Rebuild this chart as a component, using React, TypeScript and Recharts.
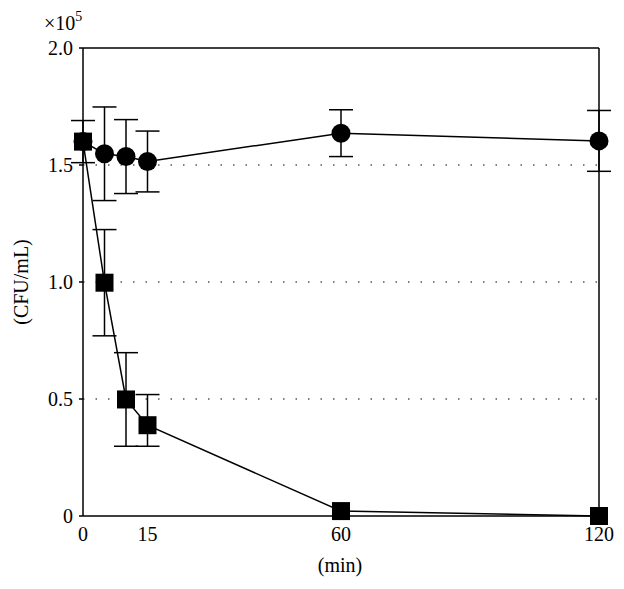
import { LineChart, Line, XAxis, YAxis, CartesianGrid, ErrorBar, ReferenceLine } from 'recharts'

const minutes = [0, 5, 10, 15, 60, 120]
const circleValues = [1.6, 1.548, 1.536, 1.515, 1.636, 1.603]
const circleErrors = [0.09, 0.2, 0.158, 0.13, 0.1, 0.13]
const squareValues = [1.6, 0.997, 0.498, 0.388, 0.021, 0]
const squareErrors: (number | [number, number])[] = [0, 0.227, 0.2, [0.09, 0.131], 0, 0]
const xTicks = [0, 15, 60, 120]
const yTicks = [0, 0.5, 1.0, 1.5, 2.0]

const data = minutes.map((m, i) => ({
  min: m,
  circle: circleValues[i],
  circleErr: circleErrors[i],
  square: squareValues[i],
  squareErr: squareErrors[i],
}))

const font = '"Liberation Serif", "DejaVu Serif", serif'

const CircleDot = (props: any) => {
  const { cx, cy, index } = props
  if (cx == null || cy == null) return null
  return <circle key={'c' + index} cx={cx} cy={cy} r={9.5} fill="#000" />
}

const SquareDot = (props: any) => {
  const { cx, cy, index } = props
  if (cx == null || cy == null) return null
  return <rect key={'s' + index} x={cx - 9} y={cy - 9} width={18} height={18} fill="#000" />
}

export default function App() {
  return (
    <div style={{ position: 'relative', width: 616, height: 573, fontFamily: font }}>
      <LineChart width={616} height={573} data={data} margin={{ top: 40, right: 25, left: 35, bottom: 35 }}>
        <CartesianGrid horizontal vertical={false} stroke="#000" strokeDasharray="1.5 11" horizontalValues={[0.5, 1.0, 1.5]} />
        <XAxis
          dataKey="min"
          type="number"
          domain={[0, 120]}
          ticks={xTicks}
          tickSize={0}
          tickMargin={11}
          height={30}
          stroke="#000"
          strokeWidth={1.5}
          tick={{ fill: '#000', fontSize: 20, fontFamily: font }}
        />
        <YAxis
          type="number"
          domain={[0, 2]}
          ticks={yTicks}
          tickSize={4}
          tickMargin={6}
          width={40}
          stroke="#000"
          strokeWidth={1.5}
          tickFormatter={(v: number) => (v === 0 ? '0' : v.toFixed(1))}
          tick={{ fill: '#000', fontSize: 20, fontFamily: font }}
        />
        <ReferenceLine y={2} stroke="#000" strokeWidth={1.5} />
        <ReferenceLine x={120} stroke="#000" strokeWidth={1.5} />
        <Line
          dataKey="circle"
          stroke="#000"
          strokeWidth={1.5}
          dot={CircleDot}
          activeDot={false}
          isAnimationActive={false}
        >
          <ErrorBar dataKey="circleErr" width={12} stroke="#000" strokeWidth={1.5} />
        </Line>
        <Line
          dataKey="square"
          stroke="#000"
          strokeWidth={1.5}
          dot={SquareDot}
          activeDot={false}
          isAnimationActive={false}
        >
          <ErrorBar dataKey="squareErr" width={12} stroke="#000" strokeWidth={1.5} />
        </Line>
      </LineChart>
      <div style={{ position: 'absolute', left: 36, top: 2, fontSize: 20, color: '#000' }}>
        ×10<sup style={{ fontSize: 14, position: 'relative', top: -1 }}>5</sup>
      </div>
      <div
        style={{
          position: 'absolute',
          left: 13,
          top: 274,
          fontSize: 20,
          transform: 'translate(-50%, -50%) rotate(-90deg)',
          whiteSpace: 'nowrap',
        }}
      >
        (CFU/mL)
      </div>
      <div style={{ position: 'absolute', left: 332, top: 557, fontSize: 20, transform: 'translate(-50%, -50%)' }}>
        (min)
      </div>
    </div>
  )
}
